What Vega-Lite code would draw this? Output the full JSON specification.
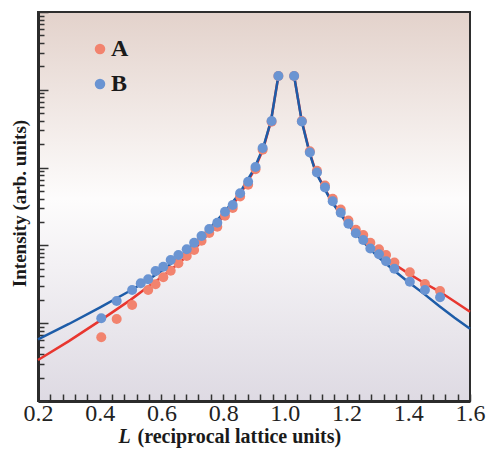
{
  "$schema": "https://vega.github.io/schema/vega-lite/v6.json",
  "width": 432,
  "height": 389,
  "autosize": {"type": "none"},
  "padding": {"left": 38, "top": 12, "right": 20, "bottom": 48},
  "config": {
    "font": "Liberation Serif",
    "view": {
      "stroke": "#2e2e2e",
      "strokeWidth": 2,
      "fill": {"gradient": "linear", "x1": 0, "y1": 0, "x2": 0, "y2": 1,
        "stops": [{"offset": 0, "color": "#e3d2cb"}, {"offset": 0.48, "color": "#fdfcfc"}, {"offset": 1, "color": "#dedae3"}]}
    }
  },
  "datasets": {
    "points": [
      {"L":0.405,"I":6.59,"series":"A"},{"L":0.455,"I":11.32,"series":"A"},{"L":0.505,"I":17.14,"series":"A"},{"L":0.557,"I":26.73,"series":"A"},{"L":0.581,"I":31.62,"series":"A"},{"L":0.606,"I":38.9,"series":"A"},{"L":0.63,"I":47.32,"series":"A"},{"L":0.655,"I":58.88,"series":"A"},{"L":0.682,"I":73.11,"series":"A"},{"L":0.706,"I":87.3,"series":"A"},{"L":0.73,"I":114.8,"series":"A"},{"L":0.755,"I":144.5,"series":"A"},{"L":0.781,"I":173.8,"series":"A"},{"L":0.806,"I":239.9,"series":"A"},{"L":0.831,"I":302,"series":"A"},{"L":0.855,"I":426.6,"series":"A"},{"L":0.881,"I":602.6,"series":"A"},{"L":0.905,"I":955,"series":"A"},{"L":0.928,"I":1698,"series":"A"},{"L":0.957,"I":3890,"series":"A"},{"L":0.979,"I":15031,"series":"A"},
      {"L":1.03,"I":15031,"series":"A"},{"L":1.055,"I":3981,"series":"A"},{"L":1.081,"I":1622,"series":"A"},{"L":1.104,"I":912,"series":"A"},{"L":1.13,"I":588.8,"series":"A"},{"L":1.155,"I":398.1,"series":"A"},{"L":1.181,"I":288.4,"series":"A"},{"L":1.206,"I":208.9,"series":"A"},{"L":1.23,"I":158.5,"series":"A"},{"L":1.254,"I":136.1,"series":"A"},{"L":1.277,"I":108.4,"series":"A"},{"L":1.305,"I":89.1,"series":"A"},{"L":1.328,"I":75.3,"series":"A"},{"L":1.355,"I":60.3,"series":"A"},{"L":1.405,"I":45.1,"series":"A"},{"L":1.454,"I":31.9,"series":"A"},{"L":1.503,"I":25.9,"series":"A"},
      {"L":0.405,"I":11.56,"series":"B"},{"L":0.455,"I":19.28,"series":"B"},{"L":0.505,"I":26.73,"series":"B"},{"L":0.533,"I":32.58,"series":"B"},{"L":0.557,"I":36.64,"series":"B"},{"L":0.581,"I":46.88,"series":"B"},{"L":0.606,"I":53.21,"series":"B"},{"L":0.63,"I":64.86,"series":"B"},{"L":0.655,"I":75.34,"series":"B"},{"L":0.682,"I":89.13,"series":"B"},{"L":0.706,"I":108.4,"series":"B"},{"L":0.73,"I":132.1,"series":"B"},{"L":0.755,"I":162.6,"series":"B"},{"L":0.781,"I":195.9,"series":"B"},{"L":0.806,"I":271,"series":"B"},{"L":0.831,"I":330.4,"series":"B"},{"L":0.855,"I":467.7,"series":"B"},{"L":0.881,"I":659.2,"series":"B"},{"L":0.905,"I":1019,"series":"B"},{"L":0.928,"I":1786,"series":"B"},{"L":0.957,"I":3972,"series":"B"},{"L":0.979,"I":15031,"series":"B"},
      {"L":1.03,"I":15031,"series":"B"},{"L":1.055,"I":3917,"series":"B"},{"L":1.081,"I":1563,"series":"B"},{"L":1.104,"I":864.9,"series":"B"},{"L":1.13,"I":554.6,"series":"B"},{"L":1.155,"I":369,"series":"B"},{"L":1.181,"I":263,"series":"B"},{"L":1.206,"I":189.7,"series":"B"},{"L":1.23,"I":143.2,"series":"B"},{"L":1.254,"I":117.2,"series":"B"},{"L":1.277,"I":91.2,"series":"B"},{"L":1.305,"I":76.9,"series":"B"},{"L":1.328,"I":62.5,"series":"B"},{"L":1.355,"I":50.1,"series":"B"},{"L":1.405,"I":34.1,"series":"B"},{"L":1.454,"I":26.7,"series":"B"},{"L":1.503,"I":21.5,"series":"B"}
    ],
    "fits": [
      {"L":0.2,"I":3.365,"fit":"fitA","branch":"left"},{"L":0.3,"I":5.888,"fit":"fitA","branch":"left"},{"L":0.4,"I":10.72,"fit":"fitA","branch":"left"},{"L":0.5,"I":19.95,"fit":"fitA","branch":"left"},{"L":0.55,"I":28.18,"fit":"fitA","branch":"left"},{"L":0.6,"I":38.9,"fit":"fitA","branch":"left"},{"L":0.65,"I":56.2,"fit":"fitA","branch":"left"},{"L":0.7,"I":83.2,"fit":"fitA","branch":"left"},{"L":0.75,"I":138,"fit":"fitA","branch":"left"},{"L":0.8,"I":234.4,"fit":"fitA","branch":"left"},{"L":0.85,"I":416.9,"fit":"fitA","branch":"left"},{"L":0.9,"I":912,"fit":"fitA","branch":"left"},{"L":0.93,"I":1738,"fit":"fitA","branch":"left"},{"L":0.955,"I":3981,"fit":"fitA","branch":"left"},{"L":0.979,"I":15031,"fit":"fitA","branch":"left"},
      {"L":1.03,"I":15031,"fit":"fitA","branch":"right"},{"L":1.055,"I":3981,"fit":"fitA","branch":"right"},{"L":1.08,"I":1585,"fit":"fitA","branch":"right"},{"L":1.1,"I":891,"fit":"fitA","branch":"right"},{"L":1.15,"I":380.2,"fit":"fitA","branch":"right"},{"L":1.2,"I":204.2,"fit":"fitA","branch":"right"},{"L":1.25,"I":125.9,"fit":"fitA","branch":"right"},{"L":1.3,"I":83.2,"fit":"fitA","branch":"right"},{"L":1.35,"I":58.9,"fit":"fitA","branch":"right"},{"L":1.4,"I":43.65,"fit":"fitA","branch":"right"},{"L":1.45,"I":33.1,"fit":"fitA","branch":"right"},{"L":1.5,"I":25.7,"fit":"fitA","branch":"right"},{"L":1.55,"I":19.05,"fit":"fitA","branch":"right"},{"L":1.6,"I":14.06,"fit":"fitA","branch":"right"},
      {"L":0.2,"I":6.21,"fit":"fitB","branch":"left"},{"L":0.3,"I":9.77,"fit":"fitB","branch":"left"},{"L":0.4,"I":15.85,"fit":"fitB","branch":"left"},{"L":0.5,"I":26.3,"fit":"fitB","branch":"left"},{"L":0.55,"I":34.7,"fit":"fitB","branch":"left"},{"L":0.6,"I":46.8,"fit":"fitB","branch":"left"},{"L":0.65,"I":66.1,"fit":"fitB","branch":"left"},{"L":0.7,"I":100,"fit":"fitB","branch":"left"},{"L":0.75,"I":154.9,"fit":"fitB","branch":"left"},{"L":0.8,"I":257,"fit":"fitB","branch":"left"},{"L":0.85,"I":446.7,"fit":"fitB","branch":"left"},{"L":0.9,"I":955,"fit":"fitB","branch":"left"},{"L":0.93,"I":1820,"fit":"fitB","branch":"left"},{"L":0.955,"I":3981,"fit":"fitB","branch":"left"},{"L":0.979,"I":15031,"fit":"fitB","branch":"left"},
      {"L":1.03,"I":15031,"fit":"fitB","branch":"right"},{"L":1.055,"I":3890,"fit":"fitB","branch":"right"},{"L":1.08,"I":1549,"fit":"fitB","branch":"right"},{"L":1.1,"I":871,"fit":"fitB","branch":"right"},{"L":1.15,"I":371.5,"fit":"fitB","branch":"right"},{"L":1.2,"I":195,"fit":"fitB","branch":"right"},{"L":1.25,"I":114.8,"fit":"fitB","branch":"right"},{"L":1.3,"I":72.4,"fit":"fitB","branch":"right"},{"L":1.35,"I":49,"fit":"fitB","branch":"right"},{"L":1.4,"I":33.9,"fit":"fitB","branch":"right"},{"L":1.45,"I":24,"fit":"fitB","branch":"right"},{"L":1.5,"I":16.6,"fit":"fitB","branch":"right"},{"L":1.55,"I":11.75,"fit":"fitB","branch":"right"},{"L":1.6,"I":8.47,"fit":"fitB","branch":"right"}
    ]
  },
  "resolve": {"axis": {"x": "independent"}},
  "layer": [
    {
      "data": {"name": "fits"},
      "mark": {"type": "line", "strokeWidth": 2.5},
      "encoding": {
        "x": {"field": "L", "type": "quantitative",
          "scale": {"domain": [0.2, 1.6], "nice": false, "zero": false},
          "axis": {
            "orient": "bottom",
            "values": [0.2,0.24,0.28,0.32,0.36,0.4,0.44,0.48,0.52,0.56,0.6,0.64,0.68,0.72,0.76,0.8,0.84,0.88,0.92,0.96,1.0,1.04,1.08,1.12,1.16,1.2,1.24,1.28,1.32,1.36,1.4,1.44,1.48,1.52,1.56,1.6],
            "labelExpr": "abs(datum.value*5 - round(datum.value*5)) < 0.000001 ? format(datum.value, '.1f') : ''",
            "labelFont": "Liberation Serif", "labelFontSize": 24, "labelColor": "#222222",
            "labelOverlap": false, "labelFlush": false, "labelBaseline": "alphabetic", "labelPadding": 26,
            "tickSize": -7, "tickColor": "#333333", "tickWidth": 1.5,
            "domainWidth": 3, "domainColor": "#2b2b2b", "grid": false,
            "title": "(reciprocal lattice units)", "titleFont": "Liberation Serif", "titleFontSize": 20,
            "titleFontWeight": "bold", "titleColor": "#1a1a1a", "titleAlign": "left", "titleBaseline": "alphabetic",
            "titleX": 99, "titleY": 41
          }
        },
        "y": {"field": "I", "type": "quantitative",
          "scale": {"type": "log", "domain": [1, 100000], "nice": false},
          "axis": {
            "values": [1,2,3,4,5,6,7,8,9,10,20,30,40,50,60,70,80,90,100,200,300,400,500,600,700,800,900,1000,2000,3000,4000,5000,6000,7000,8000,9000,10000,20000,30000,40000,50000,60000,70000,80000,90000,100000],
            "labels": false, "grid": false,
            "tickSize": {"condition": {"test": "abs(log(datum.value)/LN10 - round(log(datum.value)/LN10)) < 0.000001", "value": -10}, "value": -6},
            "tickColor": "#333333", "tickWidth": 1.5,
            "domainWidth": 3, "domainColor": "#2b2b2b",
            "title": "Intensity (arb. units)", "titleFont": "Liberation Serif", "titleFontSize": 19,
            "titleFontWeight": "bold", "titleColor": "#1a1a1a", "titleBaseline": "alphabetic",
            "titleX": -13, "titleY": 191
          }
        },
        "stroke": {"field": "fit", "type": "nominal",
          "scale": {"domain": ["fitA", "fitB"], "range": ["#e8362f", "#1d5ca8"]}, "legend": null},
        "detail": {"field": "branch"}
      }
    },
    {
      "data": {"name": "points"},
      "mark": {"type": "circle", "size": 100, "opacity": 1},
      "encoding": {
        "x": {"field": "L", "type": "quantitative",
          "axis": {"orient": "bottom", "labels": false, "ticks": false, "domain": false, "grid": false,
            "title": "L", "titleFont": "Liberation Serif", "titleFontSize": 20, "titleFontWeight": "bold",
            "titleFontStyle": "italic", "titleColor": "#1a1a1a", "titleAlign": "left", "titleBaseline": "alphabetic",
            "titleX": 80, "titleY": 41}
        },
        "y": {"field": "I", "type": "quantitative"},
        "color": {"field": "series", "type": "nominal",
          "scale": {"domain": ["A", "B"], "range": ["#f2836e", "#6a94d2"]},
          "legend": {"orient": "none", "legendX": 50, "legendY": 25, "title": null,
            "labelFont": "Liberation Serif", "labelFontSize": 24, "labelFontWeight": "bold", "labelColor": "#1a1a1a",
            "symbolType": "circle", "symbolSize": 110, "symbolOpacity": 1, "rowPadding": 11, "labelOffset": -1}
        }
      }
    }
  ]
}
